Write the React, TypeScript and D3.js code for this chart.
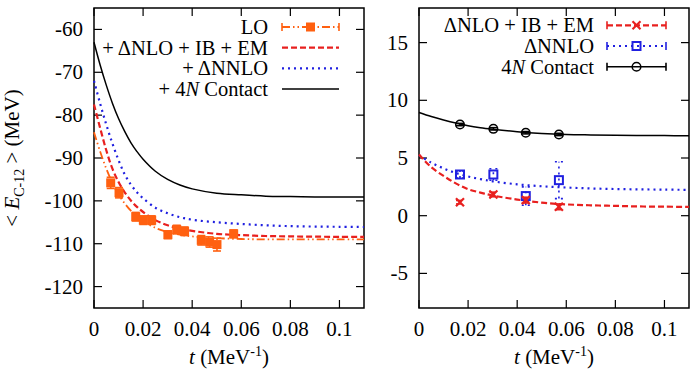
import React from "react";
import * as d3 from "d3";

// --- left panel: C-12 energies (MeV) ---
const loT = [0.0068, 0.0102, 0.017, 0.0201, 0.0235, 0.0301, 0.0337, 0.0369, 0.0437, 0.0471, 0.0501, 0.0569];
const loE = [-95.8, -98.1, -103.7, -104.5, -104.5, -107.9, -106.7, -107.1, -109.2, -109.6, -110.2, -107.7];
const loErr = [1.3, 1.2, 1.0, 1.0, 1.0, 0.9, 1.0, 1.0, 1.1, 1.2, 1.5, 0.9];

const curveT = [0, 0.0025, 0.005, 0.0075, 0.01, 0.0125, 0.015, 0.0175, 0.02, 0.025, 0.03, 0.035, 0.04, 0.05, 0.06, 0.07, 0.08, 0.09, 0.1, 0.11];
const loFit = [-84, -88.5, -92.5, -95.8, -98.5, -100.6, -102.3, -103.6, -104.7, -106.3, -107.3, -107.9, -108.3, -108.7, -108.9, -109.0, -109.0, -109.0, -109.0, -109.0];
const nloFit = [-77.5, -83, -88.2, -92.5, -95.6, -98, -99.9, -101.4, -102.6, -104.5, -105.7, -106.5, -107.0, -107.7, -108.0, -108.2, -108.3, -108.35, -108.4, -108.4];
const nnloFit = [-72, -77.3, -82.2, -86.6, -90.5, -93.8, -96.2, -98.0, -99.4, -101.6, -102.9, -103.8, -104.4, -105.0, -105.4, -105.7, -105.9, -106.0, -106.05, -106.1];
const contactFit = [-63, -68.3, -73, -77.2, -80.8, -83.8, -86.4, -88.5, -90.3, -93.1, -95.0, -96.3, -97.2, -98.2, -98.6, -98.9, -99.0, -99.1, -99.1, -99.1];

// --- right panel: corrections (MeV) ---
const rT = [0, 0.005, 0.01, 0.015, 0.02, 0.025, 0.03, 0.04, 0.05, 0.06, 0.07, 0.08, 0.09, 0.1, 0.11];
const rNloFit = [5.3, 4.2, 3.45, 2.8, 2.3, 2.0, 1.75, 1.4, 1.13, 0.98, 0.9, 0.85, 0.8, 0.78, 0.76];
const rNnloFit = [5.25, 4.6, 4.1, 3.7, 3.4, 3.17, 2.98, 2.72, 2.55, 2.44, 2.36, 2.31, 2.28, 2.26, 2.24];
const rContactFit = [8.95, 8.6, 8.3, 8.03, 7.8, 7.63, 7.5, 7.28, 7.13, 7.04, 7.0, 6.97, 6.95, 6.94, 6.93];

const ptT = [0.0167, 0.0303, 0.0435, 0.057];
const nloPts = [1.17, 1.84, 1.35, 0.77];
const nloErr = [0.15, 0.2, 0.25, 0.25];
const nnloPts = [3.57, 3.57, 1.7, 3.08];
const nnloErr = [0.3, 0.5, 0.8, 1.6];
const contactPts = [7.9, 7.53, 7.19, 7.04];
const contactErr = [0.1, 0.1, 0.1, 0.1];

const xTicks = [0, 0.02, 0.04, 0.06, 0.08, 0.1];
const yTicksL = [-60, -70, -80, -90, -100, -110, -120];
const yTicksR = [15, 10, 5, 0, -5];

const ORANGE = "#ff6010";
const RED = "#e8201f";
const BLUE = "#2020e0";
const FONT = "Liberation Serif";
const tickTxt = { fontFamily: FONT, fontSize: 21 };
const legTxt = { fontFamily: FONT, fontSize: 20.5 };

const DASH_LO = "8,3,1.5,3,1.5,3";
const DASH_NLO = "6,3";
const DASH_NNLO = "2,4";

const top = 8, bottom = 308;
const xL = d3.scaleLinear().domain([0, 0.11]).range([94, 364]);
const yL = d3.scaleLinear().domain([-125, -55]).range([bottom, top]);
const xR = d3.scaleLinear().domain([0, 0.11]).range([419, 689]);
const yR = d3.scaleLinear().domain([-8, 18]).range([bottom, top]);

type Sc = d3.ScaleLinear<number, number>;

const path = (xs: number[], ys: number[], x: Sc, y: Sc) =>
  d3.line<number>().x((d, i) => x(xs[i])).y(d => y(d)).curve(d3.curveCatmullRom)(ys) || "";

const Frame = ({ x, y, yTicks }: { x: Sc; y: Sc; yTicks: number[] }) => {
  const [x0, x1] = x.range();
  return (
    <g>
      <rect x={x0} y={top} width={x1 - x0} height={bottom - top} fill="none" stroke="#000" strokeWidth={1.5} />
      {xTicks.map(t => (
        <g key={"x" + t}>
          <line x1={x(t)} x2={x(t)} y1={bottom} y2={bottom - 8} stroke="#000" strokeWidth={1.2} />
          <line x1={x(t)} x2={x(t)} y1={top} y2={top + 8} stroke="#000" strokeWidth={1.2} />
          <text x={x(t)} y={336} textAnchor="middle" style={tickTxt}>{String(t)}</text>
        </g>
      ))}
      {yTicks.map(v => (
        <g key={"y" + v}>
          <line x1={x0} x2={x0 + 8} y1={y(v)} y2={y(v)} stroke="#000" strokeWidth={1.2} />
          <line x1={x1} x2={x1 - 8} y1={y(v)} y2={y(v)} stroke="#000" strokeWidth={1.2} />
          <text x={x0 - 11} y={y(v) + 7} textAnchor="end" style={tickTxt}>{String(v)}</text>
        </g>
      ))}
      <text x={(x0 + x1) / 2} y={364} textAnchor="middle" style={tickTxt}>
        <tspan fontStyle="italic">t</tspan> (MeV<tspan dy={-8} fontSize={14}>-1</tspan><tspan dy={8}>)</tspan>
      </text>
    </g>
  );
};

const ErrBars = ({ xs, ys, es, x, y, color, dash }: { xs: number[]; ys: number[]; es: number[]; x: Sc; y: Sc; color: string; dash?: string }) => (
  <g stroke={color} strokeWidth={1.6} strokeDasharray={dash}>
    {xs.map((t, i) => (
      <g key={i}>
        <line x1={x(t)} x2={x(t)} y1={y(ys[i] - es[i])} y2={y(ys[i] + es[i])} />
        <line x1={x(t) - 4} x2={x(t) + 4} y1={y(ys[i] - es[i])} y2={y(ys[i] - es[i])} />
        <line x1={x(t) - 4} x2={x(t) + 4} y1={y(ys[i] + es[i])} y2={y(ys[i] + es[i])} />
      </g>
    ))}
  </g>
);

const Marker = ({ kind, cx, cy }: { kind: string; cx: number; cy: number }) => {
  if (kind === "fsq") return <rect x={cx - 4.5} y={cy - 4.5} width={9} height={9} fill={ORANGE} />;
  if (kind === "osq") return <rect x={cx - 4} y={cy - 4} width={8} height={8} fill="none" stroke={BLUE} strokeWidth={2} />;
  if (kind === "cross")
    return (
      <g stroke={RED} strokeWidth={2.2}>
        <line x1={cx - 4} x2={cx + 4} y1={cy - 4} y2={cy + 4} />
        <line x1={cx - 4} x2={cx + 4} y1={cy + 4} y2={cy - 4} />
      </g>
    );
  return <circle cx={cx} cy={cy} r={4.3} fill="none" stroke="#000" strokeWidth={1.5} />;
};

const LegendRow = ({ tx, lx0, lx1, y, color, dash, width, marker, caps, children }: any) => (
  <g>
    <text x={tx} y={y + 7} textAnchor="end" style={legTxt}>{children}</text>
    <line x1={lx0} x2={lx1} y1={y} y2={y} stroke={color} strokeWidth={width} strokeDasharray={dash} />
    {caps && (
      <g stroke={color} strokeWidth={1.6}>
        <line x1={lx0} x2={lx0} y1={y - 4} y2={y + 4} />
        <line x1={lx1} x2={lx1} y1={y - 4} y2={y + 4} />
      </g>
    )}
    {marker && <Marker kind={marker} cx={(lx0 + lx1) / 2} cy={y} />}
  </g>
);

export default function App() {
  return (
    <svg width={694} height={374} style={{ position: "absolute", left: 0, top: 0, background: "#fff" }}>
      {/* left panel */}
      <Frame x={xL} y={yL} yTicks={yTicksL} />
      <path d={path(curveT, contactFit, xL, yL)} fill="none" stroke="#000" strokeWidth={1.5} />
      <path d={path(curveT, nnloFit, xL, yL)} fill="none" stroke={BLUE} strokeWidth={2.2} strokeDasharray={DASH_NNLO} />
      <path d={path(curveT, nloFit, xL, yL)} fill="none" stroke={RED} strokeWidth={2.2} strokeDasharray={DASH_NLO} />
      <path d={path(curveT, loFit, xL, yL)} fill="none" stroke={ORANGE} strokeWidth={1.8} strokeDasharray={DASH_LO} />
      <ErrBars xs={loT} ys={loE} es={loErr} x={xL} y={yL} color={ORANGE} dash={DASH_LO} />
      {loT.map((t, i) => <Marker key={i} kind="fsq" cx={xL(t)} cy={yL(loE[i])} />)}

      <LegendRow tx={268} lx0={282} lx1={339} y={27} color={ORANGE} dash={DASH_LO} width={1.8} marker="fsq" caps>LO</LegendRow>
      <LegendRow tx={268} lx0={282} lx1={339} y={47.7} color={RED} dash={DASH_NLO} width={2.2}>+ ΔNLO + IB + EM</LegendRow>
      <LegendRow tx={268} lx0={282} lx1={339} y={68.3} color={BLUE} dash={DASH_NNLO} width={2.2}>+ ΔNNLO</LegendRow>
      <LegendRow tx={268} lx0={282} lx1={339} y={89} color="#000" width={1.5}>
        + 4<tspan fontStyle="italic">N</tspan> Contact
      </LegendRow>

      <text transform="translate(19,158) rotate(-90)" textAnchor="middle" style={tickTxt}>
        {"< "}<tspan fontStyle="italic">E</tspan><tspan dy={5} fontSize={14}>C-12</tspan><tspan dy={-5}>{" > (MeV)"}</tspan>
      </text>

      {/* right panel */}
      <Frame x={xR} y={yR} yTicks={yTicksR} />
      <path d={path(rT, rContactFit, xR, yR)} fill="none" stroke="#000" strokeWidth={1.5} />
      <path d={path(rT, rNnloFit, xR, yR)} fill="none" stroke={BLUE} strokeWidth={2.2} strokeDasharray={DASH_NNLO} />
      <path d={path(rT, rNloFit, xR, yR)} fill="none" stroke={RED} strokeWidth={2.2} strokeDasharray={DASH_NLO} />
      <ErrBars xs={ptT} ys={contactPts} es={contactErr} x={xR} y={yR} color="#000" />
      <ErrBars xs={ptT} ys={nnloPts} es={nnloErr} x={xR} y={yR} color={BLUE} dash={DASH_NNLO} />
      <ErrBars xs={ptT} ys={nloPts} es={nloErr} x={xR} y={yR} color={RED} dash={DASH_NLO} />
      {ptT.map((t, i) => <Marker key={"c" + i} kind="circ" cx={xR(t)} cy={yR(contactPts[i])} />)}
      {ptT.map((t, i) => <Marker key={"s" + i} kind="osq" cx={xR(t)} cy={yR(nnloPts[i])} />)}
      {ptT.map((t, i) => <Marker key={"x" + i} kind="cross" cx={xR(t)} cy={yR(nloPts[i])} />)}

      <LegendRow tx={594} lx0={607} lx1={666} y={25.3} color={RED} dash={DASH_NLO} width={2.2} marker="cross" caps>ΔNLO + IB + EM</LegendRow>
      <LegendRow tx={594} lx0={607} lx1={666} y={46} color={BLUE} dash={DASH_NNLO} width={2.2} marker="osq" caps>ΔNNLO</LegendRow>
      <LegendRow tx={594} lx0={607} lx1={666} y={66.7} color="#000" width={1.5} marker="circ" caps>
        4<tspan fontStyle="italic">N</tspan> Contact
      </LegendRow>
    </svg>
  );
}
